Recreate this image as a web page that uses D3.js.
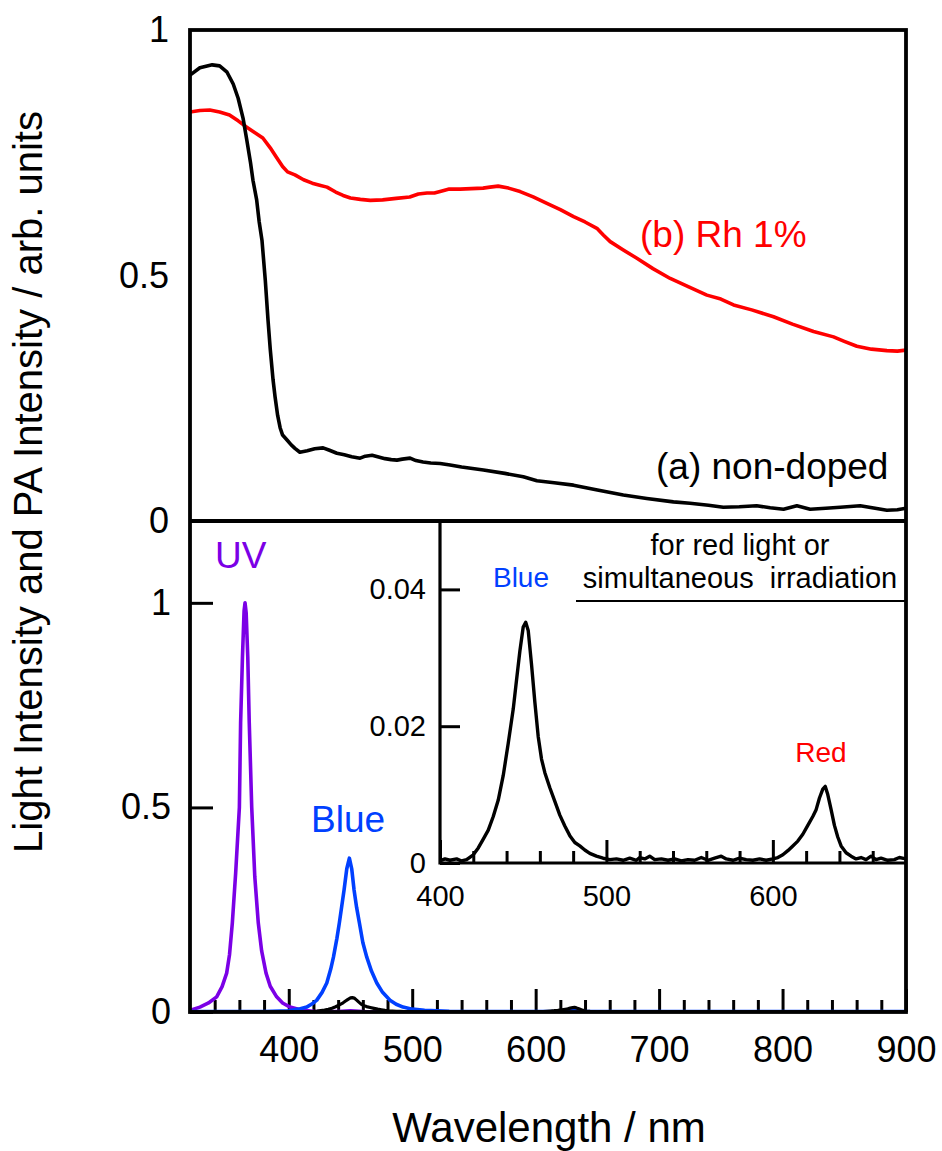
<!DOCTYPE html>
<html>
<head>
<meta charset="utf-8">
<script src="https://cdn.jsdelivr.net/npm/d3@7/dist/d3.min.js"></script>
<style>
  html, body { margin: 0; padding: 0; background: #fff; }
  svg { display: block; }
  text { font-family: "Liberation Sans", Arial, Helvetica, sans-serif; }
</style>
</head>
<body>
<svg id="chart" width="942" height="1151"></svg>
<script>
// ---------- DATA ----------
// Top panel: PA intensity (photoacoustic spectra)
const nonDopedNm = [320,328,338,344,350,355,359,363,366,369,371,374,376,378.3,381,383.2,385,387.3,388.9,391,393,395,398.6,402,405,409,415,421,427.8,433,439,445,451,457.8,462,467.5,472,478,483,487.7,492,498.3,503,508.8,515,522.6,530.7,540,557.7,575,590,601,615,630.6,650,671,690,711.6,725,740,752,765,779,790,800.8,811.6,822.4,835,846.7,862.9,875,884.5,893,900];
const nonDopedVal = [0.908,0.923,0.929,0.927,0.914,0.89,0.861,0.82,0.776,0.73,0.694,0.654,0.61,0.572,0.49,0.409,0.35,0.287,0.253,0.215,0.19,0.175,0.165,0.155,0.148,0.140,0.143,0.147,0.149,0.144,0.138,0.135,0.131,0.128,0.132,0.134,0.131,0.127,0.125,0.124,0.126,0.128,0.123,0.120,0.118,0.117,0.114,0.110,0.104,0.097,0.090,0.082,0.078,0.073,0.063,0.053,0.046,0.039,0.036,0.032,0.028,0.029,0.031,0.027,0.024,0.031,0.024,0.026,0.028,0.031,0.026,0.022,0.023,0.026];

const rhNm = [320,328,336,344,352,359,366,372,379,385,390,395,399,405,412,419,425,431,438,444,450,458,466,476,487,498,505,512,518,522.6,530,538.8,548,557.4,563,569.6,578,587.4,598,609.1,620,630.7,640,649.6,655,660.4,671,682,695,709,724,738.7,750,760.3,775,792.7,808,825.1,841.3,850,860.2,872,884.5,893,900];
const rhVal = [0.833,0.836,0.837,0.833,0.827,0.815,0.802,0.792,0.78,0.76,0.741,0.722,0.711,0.705,0.695,0.688,0.684,0.680,0.670,0.663,0.658,0.655,0.653,0.654,0.657,0.660,0.666,0.668,0.668,0.671,0.676,0.676,0.677,0.678,0.680,0.682,0.678,0.671,0.660,0.647,0.634,0.620,0.609,0.596,0.582,0.569,0.552,0.535,0.514,0.494,0.477,0.460,0.452,0.440,0.430,0.416,0.401,0.386,0.375,0.366,0.356,0.350,0.347,0.346,0.348];

// Bottom panel: light source spectra
const uvNm = [320,328,335,341.6,346,349.7,352,354.3,357,360,361,362.5,363.8,364.6,365.5,366.8,368,370,372.5,375.3,378,381.6,385,390.2,395,401,410,420,440,450,460,480,600,900];
const uvVal = [0.004,0.012,0.022,0.037,0.062,0.095,0.14,0.218,0.34,0.5,0.707,0.868,0.98,1.0,0.975,0.868,0.707,0.5,0.33,0.218,0.15,0.095,0.063,0.037,0.022,0.012,0.005,0.002,0.001,0.003,0.001,0.0,0.0,0.0];

const blueNm = [320,380,400,408,414.5,419,422.7,427,430.8,434,436.2,439,441,443,444.8,447,449.1,451,452.9,455,457.2,460,463.2,467,471.3,476,482,487,492.6,500,510,530,560,600,620,632,640,660,900];
const blueVal = [0.001,0.001,0.003,0.007,0.012,0.02,0.029,0.048,0.071,0.105,0.134,0.18,0.218,0.26,0.298,0.35,0.376,0.35,0.298,0.255,0.218,0.17,0.134,0.1,0.071,0.048,0.029,0.019,0.012,0.007,0.004,0.002,0.001,0.001,0.002,0.006,0.002,0.001,0.001];

// Inset: spectrum for red light or simultaneous irradiation
const mixNm = [400,403,406,410,413,416,420,423,426,429,432,435,438,441,444,446,448,450,451.5,453,455,457,459,461,463,466,469,472,475,478,481,484,487,490,494,498,502,506,510,514,518,520,523,526,529,533,537,541,545,549,553,557,561,565,569,572,576,580,584,588,592,596,600,603,606,609,612,615,618,621,624,626,628,630,631.5,633,635,637,639,641,644,647,650,653,656,659,662,665,669,673,676,680];
const mixVal = [0.0003,0.0006,0.0004,0.0006,0.0003,0.0005,0.0012,0.0022,0.0035,0.0048,0.0068,0.0092,0.0128,0.0175,0.0225,0.0268,0.0310,0.0345,0.0352,0.0340,0.0290,0.0235,0.0185,0.0152,0.0132,0.0110,0.0090,0.0070,0.0054,0.0040,0.0030,0.0025,0.0019,0.0014,0.0010,0.0007,0.0005,0.0006,0.0004,0.0007,0.0004,0.0008,0.0006,0.0010,0.0005,0.0006,0.0004,0.0006,0.0003,0.0005,0.0004,0.0008,0.0004,0.0007,0.0010,0.0006,0.0004,0.0007,0.0005,0.0004,0.0006,0.0004,0.0006,0.0008,0.0012,0.0018,0.0025,0.0032,0.0042,0.0055,0.0068,0.0078,0.0095,0.0108,0.0112,0.0100,0.0078,0.0055,0.0038,0.0025,0.0015,0.0010,0.0006,0.0008,0.0005,0.0010,0.0005,0.0007,0.0004,0.0005,0.0008,0.0006];
const mixTailNm = [320,380,400];
const mixTailVal = [0.0,0.0,0.0003];
const mixEndNm = [680,750,820,900];
const mixEndVal = [0.0006,0.0005,0.0005,0.0005];

// Ticks
const xMajor = [400,500,600,700,800,900];
const xMinor = [340,360,380,420,440,460,480,520,540,560,580,620,640,660,680,720,740,760,780,820,840,860,880];
const yTopTicks = [0,0.5,1];
const yBotTicks = [0,0.5,1];
const inXMajor = [400,500,600];
const inXMinor = [420,440,460,480,520,540,560,580,620,640,660];
const inYTicks = [0,0.02,0.04];

// ---------- DRAW ----------
const svg = d3.select("#chart");
const FONT = '"Liberation Sans", Arial, Helvetica, sans-serif';
const PURPLE = "#7B00E6", BLUE = "#0040FF", RED = "#FF0000";

const L = 190, R = 906, T = 30, M = 521, B = 1012;
const x = d3.scaleLinear().domain([320, 900]).range([L, R]);
const yTop = d3.scaleLinear().domain([0, 1]).range([M, T]);
const yBot = d3.scaleLinear().domain([0, 1.2]).range([B, M]);

const IL = 440, IB = 863;
const xIn = d3.scaleLinear().domain([400, 680]).range([IL, R]);
const yIn = d3.scaleLinear().domain([0, 0.05]).range([IB, M]);

const defs = svg.append("defs");
defs.append("clipPath").attr("id","clipTop").append("rect").attr("x",L).attr("y",T).attr("width",R-L).attr("height",M-T);
defs.append("clipPath").attr("id","clipBot").append("rect").attr("x",L).attr("y",M).attr("width",R-L).attr("height",B-M);
defs.append("clipPath").attr("id","clipIn").append("rect").attr("x",IL).attr("y",M).attr("width",R-IL).attr("height",IB-M);

const zip = (a, b) => a.map((v, i) => [v, b[i]]);

function drawLine(g, xs, ys, data, color, w) {
  g.append("path")
    .datum(data)
    .attr("fill", "none")
    .attr("stroke", color)
    .attr("stroke-width", w)
    .attr("stroke-linejoin", "round")
    .attr("stroke-linecap", "round")
    .attr("d", d3.line().x(d => xs(d[0])).y(d => ys(d[1])));
}

// Top panel curves
const gTop = svg.append("g").attr("clip-path", "url(#clipTop)");
drawLine(gTop, x, yTop, zip(rhNm, rhVal), RED, 3.6);
drawLine(gTop, x, yTop, zip(nonDopedNm, nonDopedVal), "#000", 3.6);

// Bottom panel: ticks first (drawn under curves)
const xAxisMinor = d3.axisBottom(x).tickValues(xMinor).tickSize(-12).tickFormat("");
const xAxisMajor = d3.axisBottom(x).tickValues(xMajor).tickSize(-23).tickPadding(24).tickFormat(d => String(d));
function styleAxis(g, fs) {
  g.select(".domain").remove();
  g.selectAll(".tick line").attr("stroke", "#000").attr("stroke-width", 3);
  g.selectAll(".tick text").attr("fill", "#000").style("font-size", fs + "px").style("font-family", FONT);
}
svg.append("g").attr("transform", `translate(0,${B})`).call(xAxisMinor).call(g => styleAxis(g, 36));
svg.append("g").attr("transform", `translate(0,${B})`).call(xAxisMajor).call(g => styleAxis(g, 36));

const yBotAxis = d3.axisLeft(yBot).tickValues(yBotTicks).tickSize(-23).tickPadding(19).tickFormat(d => String(d));
svg.append("g").attr("transform", `translate(${L},0)`).call(yBotAxis).call(g => styleAxis(g, 36));
const yTopAxis = d3.axisLeft(yTop).tickValues(yTopTicks).tickSize(0).tickPadding(21).tickFormat(d => String(d));
svg.append("g").attr("transform", `translate(${L},0)`).call(yTopAxis).call(g => styleAxis(g, 36));

const gBot = svg.append("g").attr("clip-path", "url(#clipBot)");
drawLine(gBot, x, yBot, zip(uvNm, uvVal), PURPLE, 3.6);
drawLine(gBot, x, yBot, zip(blueNm, blueVal), BLUE, 3.6);
drawLine(gBot, x, yBot, zip(mixTailNm, mixTailVal).concat(zip(mixNm, mixVal)).concat(zip(mixEndNm, mixEndVal)), "#000", 3.2);

// Inset
svg.append("rect").attr("x", IL).attr("y", M).attr("width", R - IL).attr("height", IB - M).attr("fill", "#fff");
const inMinor = d3.axisBottom(xIn).tickValues(inXMinor).tickSize(-12).tickFormat("");
const inMajor = d3.axisBottom(xIn).tickValues(inXMajor).tickSize(-23).tickPadding(22).tickFormat(d => String(d));
svg.append("g").attr("transform", `translate(0,${IB})`).call(inMinor).call(g => styleAxis(g, 29));
svg.append("g").attr("transform", `translate(0,${IB})`).call(inMajor).call(g => styleAxis(g, 29));
const inY = d3.axisLeft(yIn).tickValues(inYTicks).tickSize(-20).tickPadding(14).tickFormat(d => String(d));
svg.append("g").attr("transform", `translate(${IL},0)`).call(inY).call(g => styleAxis(g, 29));

const gIn = svg.append("g").attr("clip-path", "url(#clipIn)");
drawLine(gIn, xIn, yIn, zip(mixNm, mixVal), "#000", 3.4);

// Inset frame
svg.append("line").attr("x1", IL).attr("x2", IL).attr("y1", M).attr("y2", IB + 1.5).attr("stroke", "#000").attr("stroke-width", 3.2);
svg.append("line").attr("x1", IL).attr("x2", R).attr("y1", IB).attr("y2", IB).attr("stroke", "#000").attr("stroke-width", 3.2);

// Main frame
svg.append("rect").attr("x", L).attr("y", T).attr("width", R - L).attr("height", B - T)
  .attr("fill", "none").attr("stroke", "#000").attr("stroke-width", 3.8);
svg.append("line").attr("x1", L).attr("x2", R).attr("y1", M).attr("y2", M).attr("stroke", "#000").attr("stroke-width", 3.8);

// Text annotations
function txt(str, xp, yp, size, color, anchor) {
  return svg.append("text").attr("x", xp).attr("y", yp).attr("fill", color)
    .attr("text-anchor", anchor || "start").style("font-size", size + "px").style("font-family", FONT).text(str);
}
txt("(b) Rh 1%", 640, 247, 37, RED);
txt("(a) non-doped", 656, 479, 37, "#000");
txt("UV", 215, 568, 37, PURPLE);
txt("Blue", 311, 832, 37, BLUE);

txt("Blue", 521, 587, 28, BLUE, "middle");
txt("for red light or", 740, 555, 29, "#000", "middle");
svg.append("text").attr("x", 740).attr("y", 588).attr("fill", "#000").attr("text-anchor", "middle")
  .style("font-size", "29px").style("font-family", FONT).style("white-space", "pre")
  .attr("xml:space", "preserve").text("simultaneous  irradiation");
svg.append("line").attr("x1", 576).attr("x2", 905).attr("y1", 601).attr("y2", 601).attr("stroke", "#000").attr("stroke-width", 2.2);
txt("Red", 821, 762, 28, RED, "middle");

// Axis titles
txt("Wavelength / nm", 549, 1142, 42, "#000", "middle");
svg.append("text")
  .attr("transform", "translate(42,482) rotate(-90)")
  .attr("text-anchor", "middle")
  .attr("fill", "#000")
  .style("font-size", "40px").style("font-family", FONT)
  .text("Light Intensity and PA Intensity / arb. units");
</script>
</body>
</html>
